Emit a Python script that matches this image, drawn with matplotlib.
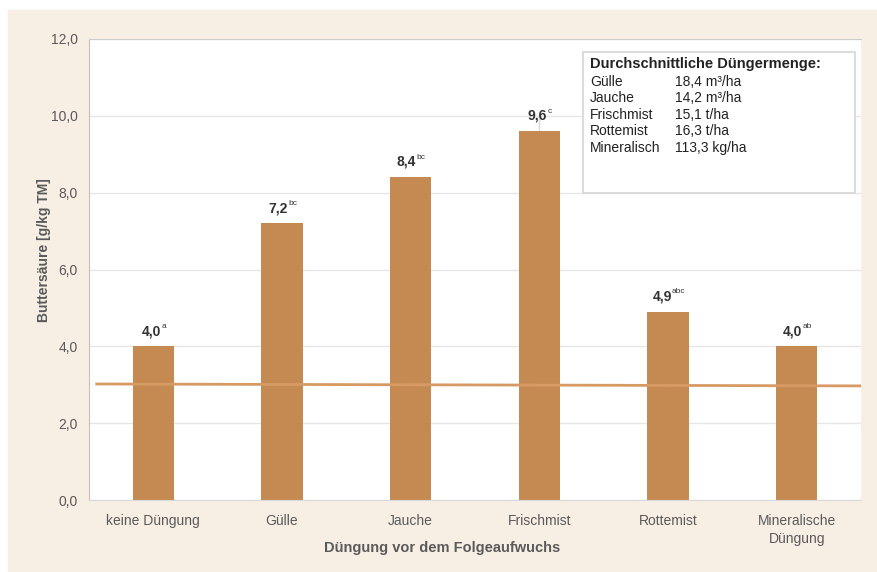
import matplotlib
matplotlib.use('Agg')
import matplotlib.pyplot as plt
from matplotlib.patches import Rectangle

plt.rcParams['font.family'] = ['Liberation Sans', 'DejaVu Sans']

CATEGORIES = ['keine Düngung', 'Gülle', 'Jauche', 'Frischmist', 'Rottemist',
              'Mineralische\nDüngung']
VALUES = [4.0, 7.2, 8.4, 9.6, 4.9, 4.0]
LETTERS = ['a', 'bc', 'bc', 'c', 'abc', 'ab']
REF_LINE = [3.02, 2.97]  # Orientierungswert, leicht schräg eingezeichnet

AMOUNT_NAMES = ['Gülle', 'Jauche', 'Frischmist', 'Rottemist', 'Mineralisch']
AMOUNT_VALUES = ['18,4 m³/ha', '14,2 m³/ha', '15,1 t/ha', '16,3 t/ha',
                 '113,3 kg/ha']

BAR_COLOR = '#C48A52'
LINE_COLOR = '#D79A64'
PANEL = '#F8EFE4'
GRID = '#E6E6E6'
TEXT = '#5A5A5A'

fig = plt.figure(figsize=(8.78, 5.72), dpi=100)
fig.patches.append(Rectangle((8 / 878, 0), 1, 1 - 10 / 572,
                             transform=fig.transFigure, color=PANEL,
                             zorder=-10))

ax = fig.add_axes([89 / 878, 72 / 572, 772 / 878, 461 / 572])
ax.set_facecolor('white')

x = list(range(len(CATEGORIES)))
ax.set_xlim(-0.5, len(CATEGORIES) - 0.5)
ax.set_ylim(0, 12)
ax.set_yticks([0, 2, 4, 6, 8, 10, 12])
ax.set_yticklabels([f'{v:.1f}'.replace('.', ',') for v in range(0, 13, 2)])
ax.yaxis.grid(True, color=GRID, linewidth=1)
ax.set_axisbelow(True)

# kleine Linie über dem Frischmist-Balken
ax.plot([3, 3], [VALUES[3], 10.0], color='#DADADA', linewidth=1, zorder=1)

ax.bar(x, VALUES, width=0.32, color=BAR_COLOR, zorder=2)
ax.plot([-0.44, 5.5], REF_LINE, color=LINE_COLOR, linewidth=2, zorder=3)

for xi, v, letter in zip(x, VALUES, LETTERS):
    label = f'{v:.1f}'.replace('.', ',')
    sup_w = 2.9 * len(letter)
    ax.annotate(label, (xi, v), xytext=(-sup_w / 2, 6),
                textcoords='offset points', ha='center', va='bottom',
                fontsize=10, fontweight='bold', color='#333333')
    ax.annotate(letter, (xi, v), xytext=(-sup_w / 2 + 7.2, 12),
                textcoords='offset points', ha='left', va='bottom',
                fontsize=6, color='#333333')

ax.set_xticks(x)
ax.set_xticklabels(CATEGORIES, fontsize=10, color=TEXT, linespacing=1.35)
ax.tick_params(axis='both', length=0)
ax.tick_params(axis='x', pad=10)
ax.tick_params(axis='y', labelsize=10, labelcolor=TEXT, pad=8)

ax.spines['right'].set_visible(False)
ax.spines['left'].set_color('#C8C0B8')
ax.spines['bottom'].set_color('#D8D8D8')
ax.spines['top'].set_color('#CCCCCC')

ax.set_ylabel('Buttersäure [g/kg TM]', fontsize=10, fontweight='bold',
              color=TEXT)
ax.yaxis.set_label_coords(-0.049, 0.542)
ax.set_xlabel('Düngung vor dem Folgeaufwuchs', fontsize=10.5,
              fontweight='bold', color=TEXT)
ax.xaxis.set_label_coords(0.457, -0.089)

# Kasten mit durchschnittlicher Düngermenge
ax.add_patch(Rectangle((0.640, 0.666), 0.352, 0.306, transform=ax.transAxes,
                       facecolor='white', edgecolor='#D6D6D6', linewidth=1.2,
                       zorder=5))
ax.text(0.649, 0.937, 'Durchschnittliche Düngermenge:', transform=ax.transAxes,
        fontsize=10.5, fontweight='bold', color='#222222', va='baseline',
        zorder=6)
rows_y = [0.898, 0.863, 0.826, 0.792, 0.755]
for name, amount, yy in zip(AMOUNT_NAMES, AMOUNT_VALUES, rows_y):
    ax.text(0.649, yy, name, transform=ax.transAxes, fontsize=10,
            color='#222222', va='baseline', zorder=6)
    ax.text(0.759, yy, amount, transform=ax.transAxes, fontsize=10,
            color='#222222', va='baseline', zorder=6)

fig.savefig('out.png', dpi=100)
